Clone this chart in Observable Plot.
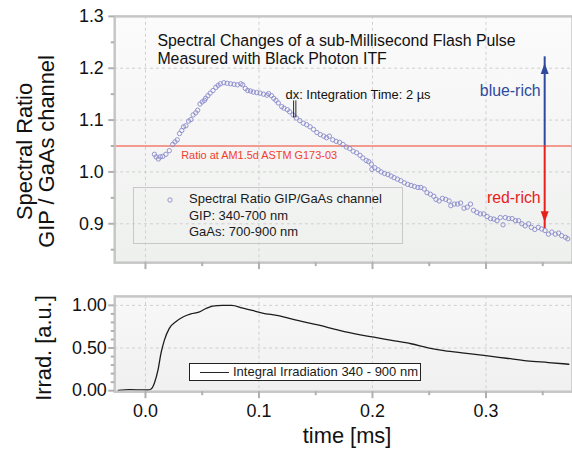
<!DOCTYPE html>
<html><head><meta charset="utf-8">
<script src="https://cdn.jsdelivr.net/npm/d3@7"></script>
<script src="https://cdn.jsdelivr.net/npm/@observablehq/plot@0.6"></script>
<style>
body{margin:0;background:#fff;}
#wrap{position:relative;width:572px;height:452px;overflow:hidden;font-family:'Liberation Sans',Arial,Helvetica,sans-serif;background:#fff;}
#top,#bottom{position:absolute;left:0;}
#top{top:0px;}
#bottom{top:280px;}
.legend{position:absolute;box-sizing:border-box;font-size:13px;color:#1a1a1a;}
#leg1{left:133px;top:187px;width:270px;height:57px;border:1px solid #c8c8c8;}
#leg1 svg{position:absolute;left:31px;top:7px;}
#leg1 .txt{position:absolute;left:55px;top:3px;line-height:16.5px;white-space:nowrap;}
#leg2{left:189px;top:363px;width:232px;height:18px;border:1px solid #222;background:#fff;}
#leg2 .ln{position:absolute;left:10px;top:7.5px;width:29px;height:0;border-top:1.3px solid #222;}
#leg2 .txt{position:absolute;left:43px;top:0px;line-height:16px;white-space:nowrap;}
</style></head>
<body>
<div id="wrap">
  <div id="top"></div>
  <div id="bottom"></div>
  <div class="legend" id="leg1">
    <svg width="10" height="10"><circle cx="5" cy="5" r="2.2" fill="none" stroke="#8a8acb" stroke-width="0.9"></circle></svg>
    <div class="txt" id="leg1txt"></div>
  </div>
  <div class="legend" id="leg2"><div class="ln"></div><div class="txt" id="leg2txt"></div></div>
</div>
<script>
// ---------- data ----------
const ratioTime = [0.0079,0.0094,0.0114,0.0131,0.0152,0.018,0.021,0.024,0.026,0.028,0.030,0.032,0.0335,0.0356,0.038,0.040,0.042,0.0443,0.046,0.048,0.050,0.052,0.053,0.055,0.057,0.0595,0.062,0.064,0.066,0.069,0.072,0.075,0.078,0.081,0.084,0.0857,0.088,0.090,0.0925,0.095,0.098,0.101,0.104,0.107,0.1085,0.111,0.113,0.115,0.117,0.120,0.122,0.125,0.127,0.130,0.133,0.136,0.139,0.142,0.145,0.148,0.151,0.154,0.157,0.1595,0.162,0.165,0.168,0.171,0.174,0.177,0.180,0.183,0.186,0.189,0.1915,0.1945,0.1966,0.199,0.1995,0.202,0.205,0.2076,0.2106,0.2135,0.2164,0.219,0.222,0.225,0.228,0.231,0.234,0.237,0.240,0.2426,0.2456,0.248,0.251,0.254,0.256,0.2587,0.2616,0.2645,0.2675,0.269,0.272,0.275,0.2776,0.2806,0.2835,0.2864,0.289,0.292,0.295,0.298,0.301,0.304,0.307,0.3097,0.3126,0.315,0.317,0.320,0.323,0.326,0.3287,0.3316,0.3345,0.3375,0.340,0.343,0.346,0.349,0.352,0.355,0.358,0.361,0.364,0.3666,0.370,0.372];
const ratioValue = [1.034,1.029,1.025,1.029,1.030,1.034,1.041,1.053,1.058,1.062,1.074,1.080,1.087,1.089,1.098,1.101,1.110,1.114,1.119,1.131,1.135,1.138,1.142,1.147,1.152,1.157,1.163,1.167,1.170,1.172,1.171,1.170,1.169,1.168,1.170,1.168,1.161,1.157,1.156,1.154,1.153,1.152,1.150,1.148,1.151,1.147,1.142,1.138,1.133,1.126,1.123,1.120,1.116,1.110,1.104,1.099,1.094,1.091,1.087,1.082,1.076,1.072,1.069,1.066,1.069,1.062,1.059,1.057,1.053,1.048,1.045,1.040,1.037,1.032,1.027,1.022,1.020,1.015,1.005,1.008,1.004,1.000,0.997,0.995,0.992,0.989,0.986,0.983,0.979,0.976,0.974,0.972,0.970,0.970,0.967,0.960,0.957,0.953,0.947,0.944,0.949,0.947,0.944,0.935,0.938,0.938,0.940,0.930,0.932,0.938,0.926,0.922,0.919,0.919,0.914,0.910,0.909,0.906,0.912,0.898,0.912,0.910,0.910,0.906,0.906,0.900,0.896,0.900,0.893,0.889,0.893,0.890,0.887,0.880,0.884,0.880,0.882,0.877,0.874,0.871];

const irradTime = [-0.024,-0.014,-0.005,0.002,0.005,0.0079,0.011,0.0137,0.0166,0.021,0.027,0.0326,0.040,0.047,0.053,0.059,0.068,0.076,0.085,0.094,0.103,0.117,0.135,0.152,0.170,0.187,0.200,0.217,0.234,0.250,0.263,0.281,0.300,0.318,0.336,0.355,0.373];
const irradValue = [0.003,0.012,0.010,0.008,0.020,0.09,0.24,0.44,0.59,0.73,0.81,0.86,0.90,0.92,0.96,0.99,1.00,1.00,0.97,0.94,0.91,0.88,0.82,0.77,0.71,0.66,0.63,0.59,0.55,0.50,0.47,0.44,0.41,0.38,0.35,0.33,0.31];

const refRatio = 1.05;                       // AM1.5d reference ratio
const xTicks = [0, 0.1, 0.2, 0.3];
const xMinorTicks = [0.05, 0.15, 0.25, 0.35];
const xTickLabels = ["0.0", "0.1", "0.2", "0.3"];
const ratioTicks = [0.9, 1.0, 1.1, 1.2, 1.3];
const ratioTickLabels = ["0.9", "1.0", "1.1", "1.2", "1.3"];
const ratioMinorTicks = [0.85, 0.95, 1.05, 1.15, 1.25];
const ratioGrid = [0.9, 1.0, 1.1, 1.2];
const irradTicks = [0, 0.5, 1.0];
const irradTickLabels = ["0.00", "0.50", "1.00"];
const irradMinorTicks = [0.1, 0.2, 0.3, 0.4, 0.6, 0.7, 0.8, 0.9];
const irradGrid = [0.5, 1.0];

const xDomain = [-0.0271, 0.3762];
const ratioDomain = [0.825, 1.3];
const irradDomain = [-0.012, 1.105];

// annotations (data units)
const titleText = "Spectral Changes of a sub-Millisecond Flash Pulse\nMeasured with Black Photon ITF";
const titleAt = {x: 0.0105, y: 1.2375};
const dxText = "dx: Integration Time: 2 \u00b5s";
const dxAt = {x: 0.1234, y: 1.1487};
const dxMarkTimes = [0.1305, 0.1325];
const dxMarkRange = [1.104, 1.137];
const refText = "Ratio at AM1.5d ASTM G173-03";
const refAt = {x: 0.0315, y: 1.0324};
const arrowX = 0.3517;
const blueTip = 1.21, redTip = 0.903;
const blueText = "blue-rich", redText = "red-rich";
const blueTextY = 1.156, redTextY = 0.949;
const yLabelTop = "Spectral Ratio\nGIP / GaAs channel";
const yLabelBottom = "Irrad. [a.u.]";
const xLabel = "time [ms]";
const legendTop = ["Spectral Ratio GIP/GaAs channel", "GIP: 340-700 nm", "GaAs: 700-900 nm"];
const legendBottom = "Integral Irradiation 340 - 900 nm";

// ---------- build ----------
const FONT = "'Liberation Sans', Arial, Helvetica, sans-serif";
const ratio = ratioTime.map((t, i) => ({t, v: ratioValue[i]}));
const irrad = irradTime.map((t, i) => ({t, v: irradValue[i]}));
const fmt = (ticks, labels) => d => labels[ticks.findIndex(t => Math.abs(t - d) < 1e-9)];

const GRID = {stroke: "#cfcfcf", strokeDasharray: "3,3", strokeWidth: 1};
const TICK = "#b0b0b0";

const headUp = {draw(ctx) { ctx.moveTo(0, 0); ctx.lineTo(4, 11); ctx.lineTo(-4, 11); ctx.closePath(); }};
const headDown = {draw(ctx) { ctx.moveTo(0, 0); ctx.lineTo(4, -11); ctx.lineTo(-4, -11); ctx.closePath(); }};

const topPlot = Plot.plot({
  width: 576, height: 280,
  marginLeft: 115, marginRight: 0, marginTop: 16, marginBottom: 16,
  x: {domain: xDomain, label: null},
  y: {domain: ratioDomain, label: null},
  style: {fontFamily: FONT, background: "transparent", overflow: "visible", color: "#111"},
  marks: [
    Plot.frame({fill: "url(#gTop)", stroke: "none"}),
    Plot.ruleX(xTicks, {...GRID}),
    Plot.ruleY(ratioGrid, {...GRID}),
    Plot.ruleY([refRatio], {stroke: "#f2402c", strokeWidth: 1.2}),
    Plot.dot(ratio, {x: "t", y: "v", r: 2.2, stroke: "#8a8acb", strokeWidth: 0.9, fill: "none"}),
    Plot.ruleX(dxMarkTimes, {y1: dxMarkRange[0], y2: dxMarkRange[1], stroke: "#111", strokeWidth: 0.9}),
    Plot.text([dxText], {x: dxAt.x, y: dxAt.y, text: d => d, textAnchor: "start", fontSize: 13, fill: "#111"}),
    Plot.text([titleText], {x: titleAt.x, y: titleAt.y, text: d => d, textAnchor: "start", lineAnchor: "middle", lineHeight: 1.15, fontSize: 16, fill: "#111"}),
    Plot.text([refText], {x: refAt.x, y: refAt.y, text: d => d, textAnchor: "start", fontSize: 11, fill: "#f2402c"}),
    Plot.ruleX([arrowX], {y1: refRatio, y2: blueTip + 0.012, stroke: "#2e4a9e", strokeWidth: 2}),
    Plot.ruleX([arrowX], {y1: refRatio, y2: redTip - 0.012, stroke: "#e8201c", strokeWidth: 2}),
    Plot.dot([arrowX], {x: d => d, y: blueTip, symbol: headUp, fill: "#2e4a9e", stroke: "none"}),
    Plot.dot([arrowX], {x: d => d, y: redTip, symbol: headDown, fill: "#e8201c", stroke: "none"}),
    Plot.text([blueText], {x: arrowX, y: blueTextY, text: d => d, textAnchor: "end", dx: -4, fontSize: 16, fill: "#2e4a9e"}),
    Plot.text([redText], {x: arrowX, y: redTextY, text: d => d, textAnchor: "end", dx: -4, fontSize: 16, fill: "#e8201c"}),
    Plot.frame({stroke: "#c6c6c6", strokeWidth: 2.5, fill: "none"}),
    Plot.axisY(ratioTicks, {anchor: "left", tickSize: 6, tickPadding: 5, tickFormat: fmt(ratioTicks, ratioTickLabels), fontSize: 18, stroke: TICK, strokeWidth: 2, fill: "#111", label: null}),
    Plot.axisY(ratioMinorTicks, {anchor: "left", tickSize: 3.5, tickFormat: () => "", stroke: TICK, strokeWidth: 2, label: null}),
    Plot.axisX(xTicks, {anchor: "bottom", tickSize: 7, tickFormat: () => "", stroke: TICK, strokeWidth: 2, label: null}),
    Plot.axisX(xMinorTicks, {anchor: "bottom", tickSize: 4, tickFormat: () => "", stroke: TICK, strokeWidth: 2, label: null}),
    Plot.text([yLabelTop], {frameAnchor: "left", text: d => d, rotate: -90, dx: -79, dy: 12, fontSize: 22, lineHeight: 1.0, textAnchor: "middle", lineAnchor: "middle", fill: "#111"})
  ]
});

const bottomPlot = Plot.plot({
  width: 576, height: 172,
  marginLeft: 115, marginRight: 0, marginTop: 16, marginBottom: 60,
  x: {domain: xDomain, label: null},
  y: {domain: irradDomain, label: null},
  style: {fontFamily: FONT, background: "transparent", overflow: "visible", color: "#111"},
  marks: [
    Plot.frame({fill: "url(#gBot)", stroke: "none"}),
    Plot.ruleX(xTicks, {...GRID}),
    Plot.ruleY(irradGrid, {...GRID}),
    Plot.line(irrad, {x: "t", y: "v", stroke: "#1c1c1c", strokeWidth: 1.3, curve: "monotone-x"}),
    Plot.frame({stroke: "#c6c6c6", strokeWidth: 2.5, fill: "none"}),
    Plot.axisY(irradTicks, {anchor: "left", tickSize: 6, tickPadding: 2, tickFormat: fmt(irradTicks, irradTickLabels), fontSize: 18, stroke: TICK, strokeWidth: 2, fill: "#111", label: null}),
    Plot.axisY(irradMinorTicks, {anchor: "left", tickSize: 3.5, tickFormat: () => "", stroke: TICK, strokeWidth: 2, label: null}),
    Plot.axisX(xTicks, {anchor: "bottom", tickSize: 7, tickPadding: 6, tickFormat: fmt(xTicks, xTickLabels), fontSize: 18, stroke: TICK, strokeWidth: 2, fill: "#111", label: null}),
    Plot.axisX(xMinorTicks, {anchor: "bottom", tickSize: 4, tickFormat: () => "", stroke: TICK, strokeWidth: 2, label: null}),
    Plot.text([yLabelBottom], {frameAnchor: "left", text: d => d, rotate: -90, dx: -71, dy: 4, fontSize: 22, textAnchor: "middle", lineAnchor: "middle", fill: "#111"}),
    Plot.text([xLabel], {frameAnchor: "bottom", text: d => d, dx: 3.5, dy: 45, fontSize: 22, textAnchor: "middle", lineAnchor: "middle", fill: "#111"})
  ]
});

function addGradient(svg, id, c0, c1) {
  d3.select(svg).insert("defs", ":first-child").html(
    `<linearGradient id="${id}" x1="0" y1="0" x2="0" y2="1"><stop offset="0" stop-color="${c0}"/><stop offset="1" stop-color="${c1}"/></linearGradient>`);
}
addGradient(topPlot, "gTop", "#fbfbfb", "#eef0ee");
addGradient(bottomPlot, "gBot", "#f7f8f7", "#eff0ef");

document.getElementById("top").appendChild(topPlot);
document.getElementById("bottom").appendChild(bottomPlot);
document.getElementById("leg1txt").innerHTML = legendTop.join("<br>");
document.getElementById("leg2txt").textContent = legendBottom;
</script>
</body></html>
